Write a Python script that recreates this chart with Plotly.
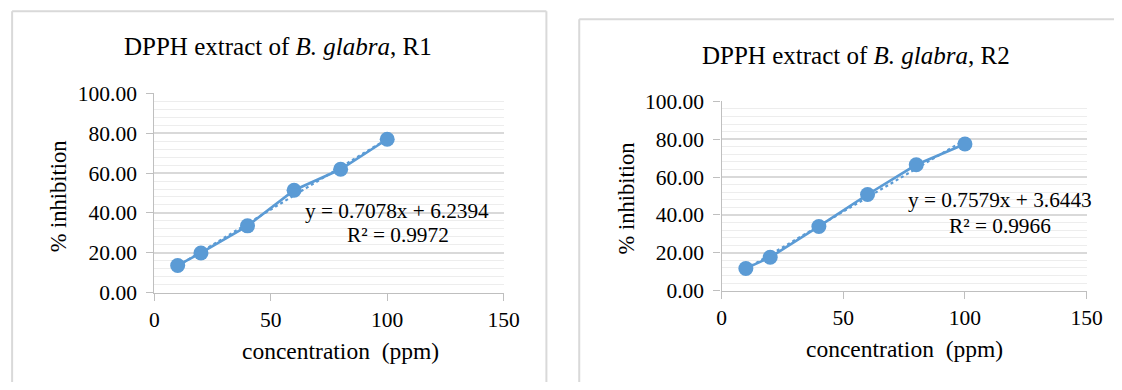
import numpy as np
import plotly.graph_objects as go

# ---- data ----
concentration = [10, 20, 40, 60, 80, 100]
inhibition_r1 = [13.6, 19.9, 33.5, 51.4, 61.9, 77.0]
inhibition_r2 = [11.7, 17.6, 33.9, 50.8, 66.5, 77.5]
titles = ["DPPH extract of <i>B. glabra</i>, R1", "DPPH extract of <i>B. glabra</i>, R2"]
equations = ["y = 0.7078x + 6.2394", "y = 0.7579x + 3.6443"]
r_squared = ["R² = 0.9972", "R² = 0.9966"]
x_ticks = [0, 50, 100, 150]
y_ticks = [0, 20, 40, 60, 80, 100]

PAGE_W, PAGE_H = 1122, 390
BODY_MARGIN = 8  # default page margin around the figure
W, H = PAGE_W - 2 * BODY_MARGIN, PAGE_H - 2 * BODY_MARGIN
BLUE = "#5b9bd5"
FONT = "Liberation Serif"

# calibration between target picture pixels and page pixels
SX, OX = 0.986, 0.0
SY, OY = 0.94, 12.2

def px(x, clip=True):
    """target picture x -> paper fraction"""
    v = ((x - OX) / SX - BODY_MARGIN) / W
    return min(max(v, 0.0), 1.0) if clip else v

def py(y, clip=True):
    """target picture y (from top) -> paper fraction"""
    v = (H - ((y - OY) / SY - BODY_MARGIN)) / H
    return min(max(v, 0.0), 1.0) if clip else v

fig = go.Figure()

panels = [
    dict(x=(150, 501), y=(294.5, 94.5), title=(274, 47), eq=(394, 213), r2=(395, 237),
         ylab=(54, 198), xlab=(337, 353), frame=(7, 12, 544)),
    dict(x=(720, 1087), y=(292.5, 102.5), title=(855, 56), eq=(1000, 202), r2=(1000, 228),
         ylab=(624, 200), xlab=(904, 351), frame=(577, 20, None)),
]

for i, (ys, p) in enumerate(zip([inhibition_r1, inhibition_r2], panels)):
    xa = "x" if i == 0 else "x2"
    ya = "y" if i == 0 else "y2"
    # trendline from least squares fit
    k, b = np.polyfit(concentration, ys, 1)
    tx = [concentration[0], concentration[-1]]
    fig.add_trace(go.Scatter(x=tx, y=[k * v + b for v in tx], mode="lines",
                             line=dict(color=BLUE, width=2.2, dash="dot"),
                             xaxis=xa, yaxis=ya, showlegend=False, hoverinfo="skip"))
    fig.add_trace(go.Scatter(x=concentration, y=ys, mode="lines+markers",
                             line=dict(color=BLUE, width=2.6),
                             marker=dict(color=BLUE, size=15),
                             xaxis=xa, yaxis=ya, showlegend=False))

    axis_common = dict(
        showline=True, linecolor="#bfbfbf", linewidth=1.3,
        ticks="outside", ticklen=7, tickcolor="#bfbfbf",
        tickfont=dict(family=FONT, size=21.5, color="#000"),
        zeroline=False,
    )
    xkey = "xaxis" if i == 0 else "xaxis2"
    ykey = "yaxis" if i == 0 else "yaxis2"
    fig.update_layout({
        xkey: dict(axis_common, domain=[px(p["x"][0]), px(p["x"][1])],
                   range=[0, 150], tickvals=x_ticks, showgrid=False,
                   anchor=ya),
        ykey: dict(axis_common, domain=[py(p["y"][0]), py(p["y"][1])],
                   range=[0, 100], tickvals=y_ticks, tickformat=".2f",
                   ticklabelstandoff=5,
                   showgrid=True, gridcolor="#d9d9d9", gridwidth=1.5,
                   minor=dict(dtick=4, showgrid=True, gridcolor="#ededed", gridwidth=1),
                   anchor=xa),
    })

    common_ann = dict(xref="paper", yref="paper", showarrow=False,
                      xanchor="center", yanchor="middle")
    fig.add_annotation(text=titles[i], x=px(p["title"][0]), y=py(p["title"][1]),
                       font=dict(family=FONT, size=25, color="#000"), **common_ann)
    fig.add_annotation(text=equations[i], x=px(p["eq"][0]), y=py(p["eq"][1]),
                       font=dict(family=FONT, size=21.3, color="#000"), **common_ann)
    fig.add_annotation(text=r_squared[i], x=px(p["r2"][0]), y=py(p["r2"][1]),
                       font=dict(family=FONT, size=21.3, color="#000"), **common_ann)
    fig.add_annotation(text="% inhibition", x=px(p["ylab"][0]), y=py(p["ylab"][1]),
                       textangle=-90,
                       font=dict(family=FONT, size=22.5, color="#000"), **common_ann)
    fig.add_annotation(text="concentration\u00a0 (ppm)", x=px(p["xlab"][0]), y=py(p["xlab"][1]),
                       font=dict(family=FONT, size=23.5, color="#000"), **common_ann)
    # panel frame (left, top, right edges; bottom is outside the picture)
    fx0, fy0, fx1 = p["frame"]
    right_edge = px(fx1, False) if fx1 is not None else px(1135, False)
    bottom = py(400, False)
    frame_line = dict(color="#d9d9d9", width=2)
    fig.add_shape(type="line", xref="paper", yref="paper",
                  x0=px(fx0, False), x1=px(fx0, False), y0=bottom, y1=py(fy0, False),
                  line=frame_line)
    fig.add_shape(type="line", xref="paper", yref="paper",
                  x0=px(fx0, False), x1=right_edge, y0=py(fy0, False), y1=py(fy0, False),
                  line=frame_line)
    if fx1 is not None:
        fig.add_shape(type="line", xref="paper", yref="paper",
                      x0=px(fx1, False), x1=px(fx1, False), y0=bottom, y1=py(fy0, False),
                      line=frame_line)

fig.update_layout(width=W, height=H, margin=dict(l=0, r=0, t=0, b=0),
                  paper_bgcolor="white", plot_bgcolor="white", showlegend=False)

fig.write_html("out.html", config={"displayModeBar": False})
